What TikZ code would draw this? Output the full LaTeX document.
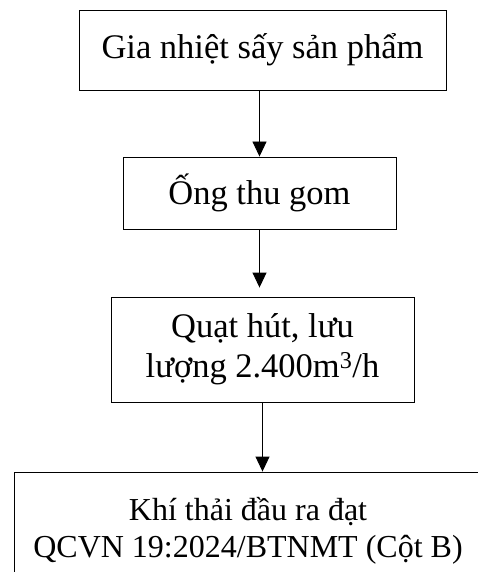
\documentclass[tikz,border=0pt]{standalone}
\usepackage{fontspec}
\setmainfont{Liberation Serif}
\usetikzlibrary{arrows.meta}
\begin{document}
\begin{tikzpicture}[x=1pt,y=-1pt,
  stepbox/.style={draw=black,line width=0.9pt,inner sep=0pt,align=center,
    font=\fontsize{34.5}{40}\selectfont},
  flow/.style={draw=black,line width=0.9pt,-{Triangle[length=15pt,width=14pt]}}]
\clip (0,0) rectangle (478,572);
\fill[white] (0,0) rectangle (478,572);
\node[stepbox,minimum width=367pt,minimum height=80pt] (b1) at (262.5,50) {Gia nhiệt sấy sản phẩm};
\node[stepbox,minimum width=273pt,minimum height=72pt] (b2) at (259.5,193) {Ống thu gom};
\node[stepbox,minimum width=303pt,minimum height=105pt] (b3) at (262.5,349.5) {Quạt hút, lưu\\lượng 2.400m\textsuperscript{3}/h};
\node[stepbox,minimum width=468pt,minimum height=118pt,font=\fontsize{32}{37}\selectfont] (b4) at (248,531) {Khí thải đầu ra đạt\\QCVN 19:2024/BTNMT (Cột B)};
\draw[flow] (b1.south -| b2.north) -- (b2.north);
\draw[flow,shorten >=9pt] (b2.south) -- (b2.south |- b3.north);
\draw[flow] (b3.south) -- (b3.south |- b4.north);
\end{tikzpicture}
\end{document}
